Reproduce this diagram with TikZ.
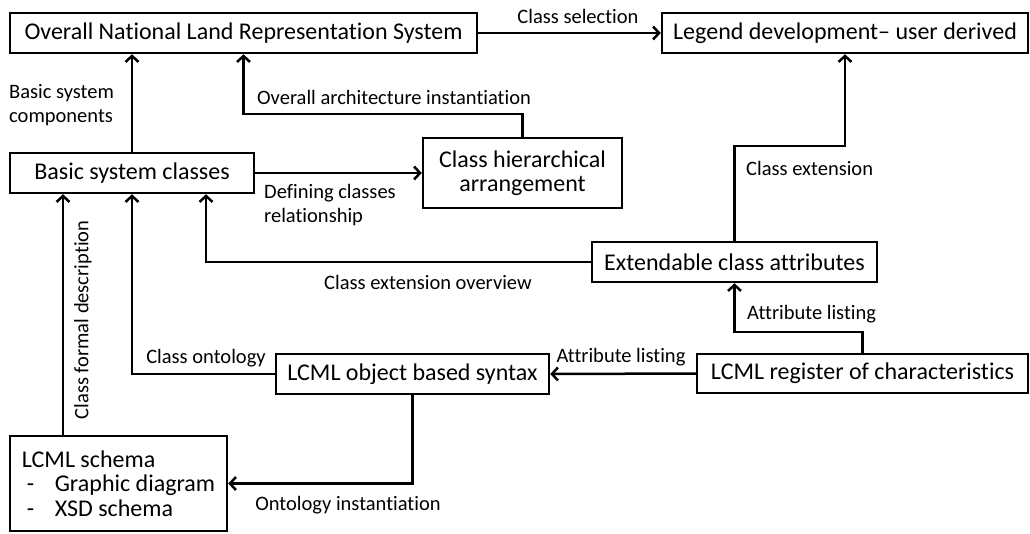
\documentclass[tikz,border=0pt]{standalone}
\usepackage{fontspec}
\setmainfont{Carlito}[Ligatures=NoCommon]
\usetikzlibrary{arrows.meta}

\begin{document}
\begin{tikzpicture}[x=1pt,y=-1pt,
      box/.style={draw,line width=2.5pt,inner sep=0pt,align=center,
        font=\fontsize{24}{24.5}\selectfont},
      lbl/.style={inner sep=0pt,font=\fontsize{20.5}{24}\selectfont},
      link/.style={line width=2.5pt,-{Straight Barb[length=6pt,width=13pt]}}]
    \useasboundingbox (0,0) rectangle (1030,533);

    % boxes
    \node[box,minimum width=467,minimum height=40] (nlrs) at (243.5,33)
      {Overall National Land Representation System};
    \node[box,minimum width=366,minimum height=40] (legend) at (845,33)
      {Legend development-- user derived};
    \node[box,minimum width=244,minimum height=40] (classes) at (132,173)
      {Basic system classes};
    \node[box,minimum width=199,minimum height=70] (hier) at (522.5,173)
      {Class hierarchical\\arrangement};
    \node[box,minimum width=285,minimum height=40] (extend) at (734.5,262)
      {Extendable class attributes};
    \node[box,minimum width=331,minimum height=39] (register) at (862.5,373.5)
      {LCML register of characteristics};
    \node[box,minimum width=273,minimum height=40] (syntax) at (412.5,374)
      {LCML object based syntax};
    \node[box,minimum width=217,minimum height=95,align=left] (schema) at (118.5,483.5)
      {LCML schema\\\makebox[33pt][l]{\hspace{5pt}-}Graphic diagram\\\makebox[33pt][l]{\hspace{5pt}-}XSD schema};

    % connectors
    \draw[link] (classes.north) -- (nlrs.south -| classes.north);
    \draw[link] (hier.north) -- ++(0,-23) -| (nlrs.south);
    \draw[link] (nlrs.east) -- (legend.west);
    \draw[link] (classes.east) -- (hier.west);
    \draw[link] (extend.north) -- ++(0,-95) -| (legend.south);
    \draw[link] (extend.west) -| ([xshift=74]classes.south);
    \draw[link] (register.north) -- ++(0,-21) -| (extend.south);
    \draw[link] (register.west) -- (syntax.east);
    \draw[link] (syntax.west) -| (classes.south);
    \draw[link] (syntax.south) |- (schema.east);
    \draw[link] ([xshift=-55.5]schema.north) -- ([xshift=-55.5]schema.north |- classes.south);

    % labels
    \node[lbl,anchor=west,align=left] (lcomp) at (9,105) {Basic system\\components};
    \node[lbl] (larch) at (394,97) {Overall architecture instantiation};
    \node[lbl] (lsel) at (578,16) {Class selection};
    \node[lbl,anchor=north west,align=left] (ldef) at (264,184) {Defining classes\\relationship};
    \node[lbl,anchor=west] (lext) at (746,168) {Class extension};
    \node[lbl] (lover) at (428,282) {Class extension overview};
    \node[lbl,anchor=west] (lattr) at (747,314) {Attribute listing};
    \node[lbl] (lattr2) at (621,357) {Attribute listing};
    \node[lbl] (lont) at (206,358) {Class ontology};
    \node[lbl] (linst) at (348,505) {Ontology instantiation};
    \node[lbl,rotate=90] (lformal) at (83,320) {Class formal description};
  \end{tikzpicture}
\end{document}
